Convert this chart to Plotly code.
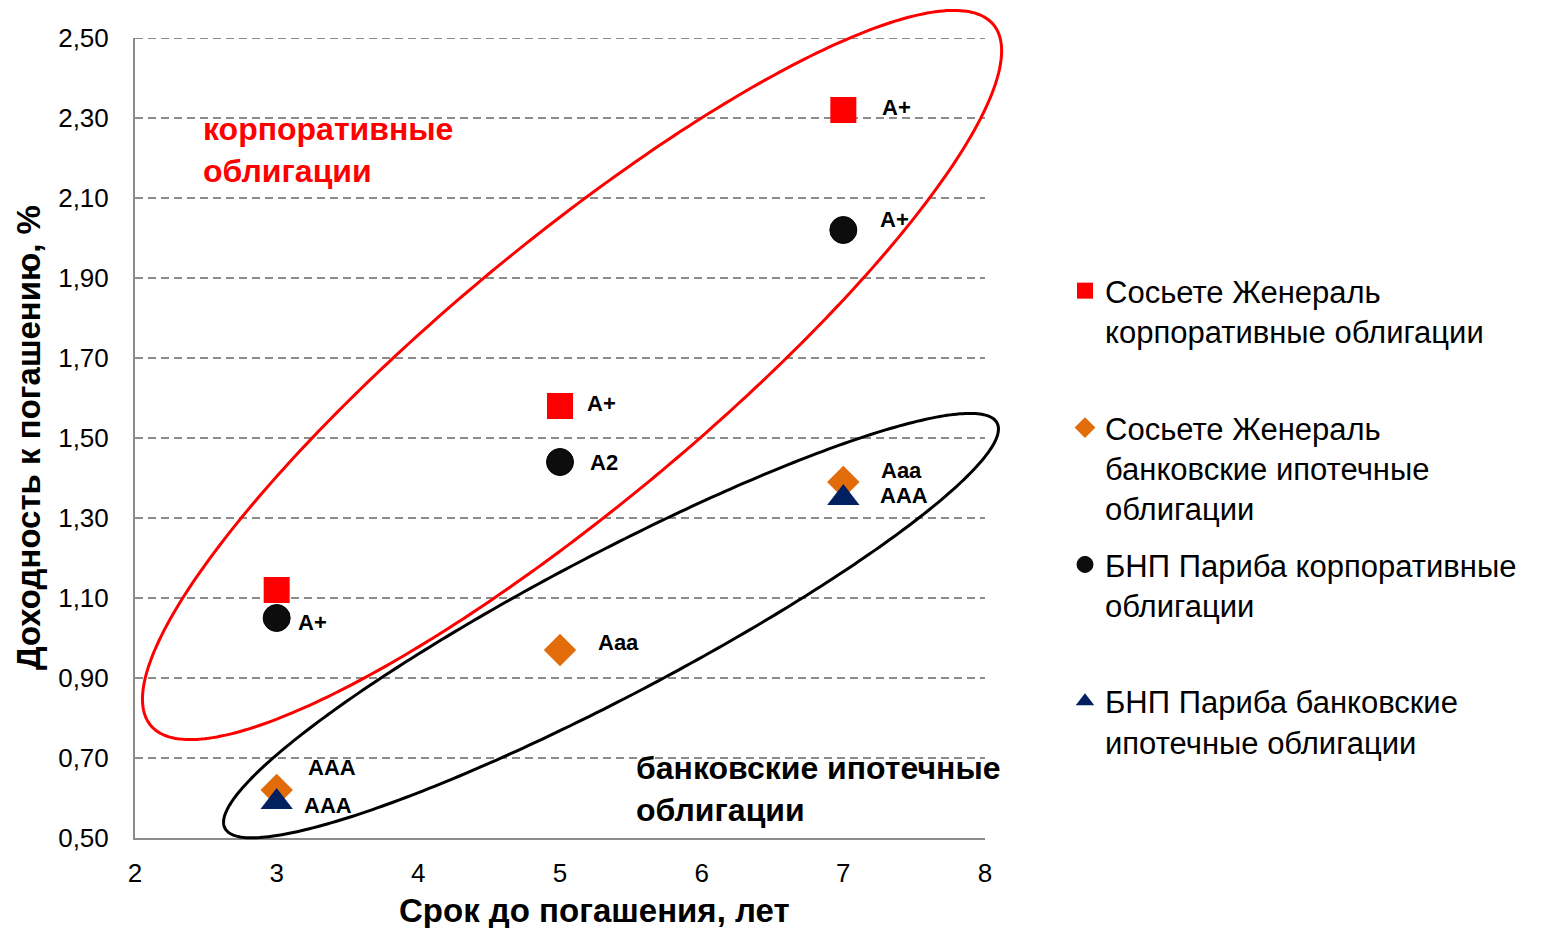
import numpy as np
import plotly.graph_objects as go

# ---------------- data ----------------
maturity = [3, 5, 7]                      # years to maturity
sg_corp_yield = [1.12, 1.58, 2.32]        # Сосьете Женераль корпоративные
sg_corp_rating = ["", "A+", "A+"]
sg_cov_yield = [0.62, 0.97, 1.39]         # Сосьете Женераль банковские ипотечные
sg_cov_rating = ["AAA", "Aaa", "Aaa"]
bnp_corp_yield = [1.05, 1.44, 2.02]       # БНП Париба корпоративные
bnp_corp_rating = ["A+", "A2", "A+"]
bnp_cov_maturity = [3, 7]
bnp_cov_yield = [0.59, 1.35]              # БНП Париба банковские ипотечные
bnp_cov_rating = ["AAA", "AAA"]

series_names = [
    "Сосьете Женераль<br>корпоративные облигации<br> ",
    "Сосьете Женераль<br>банковские ипотечные<br>облигации",
    "БНП Париба корпоративные<br>облигации<br> ",
    "БНП Париба банковские<br>ипотечные облигации",
]
x_title = "Срок до погашения, лет"
y_title = "Доходность к погашению, %"
group_labels = ["корпоративные<br>облигации", "банковские ипотечные<br>облигации"]

# ---------------- style ----------------
FONT = "Liberation Sans, Arial, sans-serif"
BODY = 8                                  # default page margin around the figure
W, H = 1545 - BODY, 928 - BODY
ML, MT = 135 - BODY, 38 - BODY
PW, PH = 850, 800                         # plot area size in px
MR, MB = W - ML - PW, H - MT - PH
XR, YR = (2, 8), (0.5, 2.5)
GRID = dict(color="#8C8C8C", width=2, dash="8px,5px")

# label offsets (px) for each rating label
off_sg_corp = [(0, 0), (25, 3), (37, 3)]
off_sg_cov = [(29, 23), (36, 8), (36, 12)]
off_bnp_corp = [(19, -4), (28, 0), (35, 11)]
off_bnp_cov = [(25, -3), (35, 3)]

# ellipses: centre (data units), semi-axes (px), rotation (deg)
ellipses = [
    dict(cx=5.085, cy=1.6575, a=548, b=131, ang=39.75, color="#FF0000"),
    dict(cx=5.36, cy=1.031, a=436, b=71, ang=27.7, color="#000000"),
]

fig = go.Figure()

fig.add_trace(go.Scatter(x=maturity, y=sg_corp_yield, mode="markers", name=series_names[0],
                         legendgroup="g1",
                         marker=dict(symbol="square", size=26, color="#FF0000")))
fig.add_trace(go.Scatter(x=maturity, y=sg_cov_yield, mode="markers", name=series_names[1],
                         legendgroup="g2",
                         marker=dict(symbol="diamond", size=25, color="#E36C0A")))
fig.add_trace(go.Scatter(x=maturity, y=bnp_corp_yield, mode="markers", name=series_names[2],
                         legendgroup="g3",
                         marker=dict(symbol="circle", size=27, color="#0D0D0D",
                                     line=dict(color="#000000", width=1))))
fig.add_trace(go.Scatter(x=bnp_cov_maturity, y=bnp_cov_yield, mode="markers", name=series_names[3],
                         legendgroup="g4",
                         marker=dict(symbol="triangle-up", size=28, color="#002060")))

# rating labels
def add_labels(xs, ys, labels, offs):
    for xv, yv, lab, (dx, dy) in zip(xs, ys, labels, offs):
        if not lab:
            continue
        fig.add_annotation(x=xv, y=yv, text=lab, showarrow=False, xanchor="left", yanchor="middle",
                           xshift=dx, yshift=dy,
                           font=dict(family=FONT, size=22, color="#000000", weight="bold"))

add_labels(maturity, sg_corp_yield, sg_corp_rating, off_sg_corp)
add_labels(maturity, sg_cov_yield, sg_cov_rating, off_sg_cov)
add_labels(maturity, bnp_corp_yield, bnp_corp_rating, off_bnp_corp)
add_labels(bnp_cov_maturity, bnp_cov_yield, bnp_cov_rating, off_bnp_cov)

# top gridline at the upper end of the y range
fig.add_shape(type="line", xref="paper", x0=0, x1=1, yref="y", y0=YR[1], y1=YR[1],
              line=GRID, layer="below")

# ellipses (paper coordinates so they are not clipped by the plot area)
t = np.linspace(0, 2 * np.pi, 361)
for e in ellipses:
    th = np.radians(e["ang"])
    du = e["a"] * np.cos(t) * np.cos(th) - e["b"] * np.sin(t) * np.sin(th)
    dv = e["a"] * np.cos(t) * np.sin(th) + e["b"] * np.sin(t) * np.cos(th)
    xs = (e["cx"] - XR[0]) / (XR[1] - XR[0]) + du / PW
    ys = (e["cy"] - YR[0]) / (YR[1] - YR[0]) + dv / PH
    path = "M " + " L ".join(f"{a:.5f},{b:.5f}" for a, b in zip(xs, ys)) + " Z"
    fig.add_shape(type="path", path=path, xref="paper", yref="paper",
                  line=dict(color=e["color"], width=3), layer="above")

# group labels
fig.add_annotation(x=2.465, y=2.22, text=group_labels[0], showarrow=False, xanchor="left",
                   yanchor="middle", align="left",
                   font=dict(family=FONT, size=32, color="#FF0000", weight="bold"))
fig.add_annotation(x=5.52, y=0.6225, text=group_labels[1], showarrow=False, xanchor="left",
                   yanchor="middle", align="left",
                   font=dict(family=FONT, size=32, color="#000000", weight="bold"))

# axis titles
fig.add_annotation(xref="paper", yref="paper", x=(594 - 135) / PW, y=-(910 - 838) / PH,
                   text=x_title, showarrow=False, xanchor="center", yanchor="middle",
                   font=dict(family=FONT, size=33, color="#000000", weight="bold"))
fig.add_annotation(xref="paper", yref="paper", x=(28 - 135) / PW, y=0.5,
                   text=y_title, textangle=-90, showarrow=False, xanchor="center", yanchor="middle",
                   font=dict(family=FONT, size=33, color="#000000", weight="bold"))

fig.update_layout(
    width=W, height=H,
    margin=dict(l=ML, r=MR, t=MT, b=MB, autoexpand=False),
    paper_bgcolor="white", plot_bgcolor="white",
    separators=", ",
    font=dict(family=FONT, color="#000000"),
    showlegend=True,
    legend=dict(x=(1065 - 135) / PW, xanchor="left", y=0.7175, yanchor="top",
                valign="top", font=dict(family=FONT, size=31, color="#000000"),
                bgcolor="rgba(0,0,0,0)", itemsizing="trace", tracegroupgap=13),
    xaxis=dict(range=list(XR), dtick=1, tick0=2, showgrid=False, zeroline=False,
               showline=True, linecolor="#8C8C8C", linewidth=2, ticks="",
               tickfont=dict(family=FONT, size=26, color="#000000"), ticklabelstandoff=11),
    yaxis=dict(range=list(YR), dtick=0.2, tick0=0.5, tickformat=".2f", zeroline=False,
               showgrid=True, gridcolor=GRID["color"], gridwidth=GRID["width"], griddash=GRID["dash"],
               showline=True, linecolor="#8C8C8C", linewidth=2, ticks="",
               tickfont=dict(family=FONT, size=26, color="#000000"), ticklabelstandoff=19),
)

fig.write_html("out.html")
